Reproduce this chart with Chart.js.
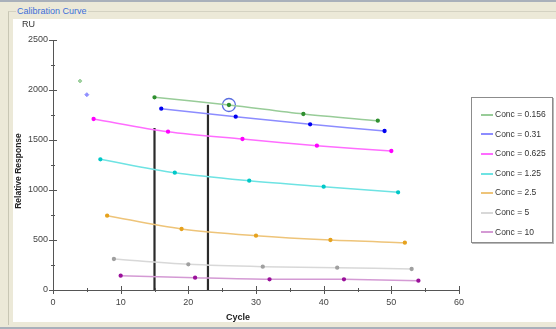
<!DOCTYPE html>
<html>
<head>
<meta charset="utf-8">
<script src="https://cdn.jsdelivr.net/npm/chart.js@4"></script>
<style>
  body { margin: 0; width: 556px; height: 329px; overflow: hidden; background: #ece9d8; position: relative; font-family: "Liberation Sans", Arial, sans-serif; }
  #topline { position: absolute; left: 0; top: 0; width: 556px; height: 2px; background: #a9b0ba; }
  #group { position: absolute; left: 8px; top: 11px; width: 560px; height: 313px; border-left: 1px solid #c8c6b4; border-top: 1px solid #d4d2c2; }
  #panel { position: absolute; left: 13px; top: 19px; width: 543px; height: 303px; background: #fff; }
  #bottomline { position: absolute; left: 0; top: 327px; width: 556px; height: 2px; background: #a9b0ba; }
  #groupTitle { position: absolute; left: 16px; top: 6px; padding: 0 1px; background: #ece9d8; color: #3d6fd8; font-size: 9px; line-height: 11px; }
  #chart { position: absolute; left: 0; top: 0; }
  .axis-text { position: absolute; color: #222; font-size: 9px; white-space: nowrap; }
  #ru { left: 22px; top: 19px; color: #333; }
  #yTitle { left: 17.5px; top: 171px; font-weight: bold; font-size: 8.5px; transform: translate(-50%, -50%) rotate(-90deg); }
  #xTitle { left: 238px; top: 317px; font-weight: bold; transform: translate(-50%, -50%); }
  #legend { position: absolute; left: 471px; top: 97px; width: 80px; height: 144px; background: #fff; border: 1px solid #8c8c8c; box-shadow: 1px 1px 0 #b8b8b8; }
  .leg-row { position: absolute; left: 9px; height: 12px; font-size: 8.5px; color: #333; line-height: 12px; white-space: nowrap; }
  .leg-row span { display: inline-block; width: 12px; height: 2px; vertical-align: middle; margin-right: 2px; }
</style>
</head>
<body>
<div id="topline"></div>
<div id="group"></div>
<div id="panel"></div>
<div id="bottomline"></div>
<div id="groupTitle">Calibration Curve</div>
<canvas id="chart" width="556" height="329"></canvas>
<div id="ru" class="axis-text">RU</div>
<div id="yTitle" class="axis-text">Relative Response</div>
<div id="xTitle" class="axis-text">Cycle</div>
<div id="legend"></div>

<script>
const seriesLabels = ["Conc = 0.156", "Conc = 0.31", "Conc = 0.625", "Conc = 1.25", "Conc = 2.5", "Conc = 5", "Conc = 10"];
const seriesCycles = [
    [15, 26, 37, 48],
    [16, 27, 38, 49],
    [6, 17, 28, 39, 50],
    [7, 18, 29, 40, 51],
    [8, 19, 30, 41, 52],
    [9, 20, 31, 42, 53],
    [10, 21, 32, 43, 54]
];
const seriesValues = [
    [1927, 1850, 1760, 1693],
    [1813, 1733, 1657, 1590],
    [1710, 1583, 1510, 1443, 1390],
    [1307, 1173, 1093, 1033, 977],
    [743, 610, 543, 500, 473],
    [310, 257, 233, 223, 210],
    [143, 123, 107, 107, 93]
];
const lineColors = ["#98cc98", "#8c8cff", "#ff6cff", "#6ee3e3", "#eec479", "#d8d8d8", "#d49ad4"];
const pointColors = ["#2f8f2f", "#0000f0", "#ff00ff", "#00c8c8", "#e6a21e", "#a0a0a0", "#9a109a"];

// excluded points (drawn faint, no line)
const excludedCycles = [4, 5];
const excludedValues = [2090, 1953];
const excludedColors = ["#9fd09f", "#8f8fff"];

// selected point ring
const cursorCycle = 26;
const cursorValue = 1850;

// black report-point markers
const markerCycles = [15, 22.9];
const markerTops = [1620, 1852];

const xMajorTicks = [0, 10, 20, 30, 40, 50, 60];
const xMinorTicks = [5, 15, 25, 35, 45, 55];
const yMajorTicks = [0, 500, 1000, 1500, 2000, 2500];
const yMinorTicks = [250, 750, 1250, 1750, 2250];

// legend
const legendEl = document.getElementById("legend");
seriesLabels.forEach((label, i) => {
    const row = document.createElement("div");
    row.className = "leg-row";
    row.style.top = (10 + i * 19.6) + "px";
    row.innerHTML = `<span style="background:${lineColors[i]}"></span>${label}`;
    legendEl.appendChild(row);
});

const datasets = [];
seriesLabels.forEach((label, i) => {
    datasets.push({
        label,
        data: seriesCycles[i].map((c, j) => ({ x: c, y: seriesValues[i][j] })),
        borderColor: lineColors[i],
        backgroundColor: pointColors[i],
        pointBackgroundColor: pointColors[i],
        pointBorderColor: pointColors[i],
        pointRadius: 1.4,
        borderWidth: 1.5,
        tension: 0.3,
        showLine: true
    });
});
excludedCycles.forEach((c, i) => {
    datasets.push({
        label: "excluded " + i,
        data: [{ x: c, y: excludedValues[i] }],
        pointStyle: "rectRot",
        pointRadius: 2,
        pointBorderColor: excludedColors[i],
        pointBackgroundColor: excludedColors[i],
        borderWidth: 1,
        showLine: false
    });
});
datasets.push({
    label: "cursor",
    data: [{ x: cursorCycle, y: cursorValue }],
    pointRadius: 6.5,
    pointBorderColor: "#5a6ee0",
    pointBackgroundColor: "transparent",
    pointBorderWidth: 1.3,
    showLine: false
});
markerCycles.forEach((c, i) => {
    datasets.push({
        label: "marker " + i,
        data: [{ x: c, y: 0 }, { x: c, y: markerTops[i] }],
        borderColor: "#2a2a2a",
        borderWidth: 2.2,
        pointRadius: 0,
        showLine: true
    });
});

// tick marks crossing the axes, major and minor
const axisTicks = {
    id: "axisTicks",
    afterDraw(chart) {
        const { ctx, chartArea, scales: { x, y } } = chart;
        ctx.save();
        ctx.strokeStyle = "#555";
        ctx.lineWidth = 1;
        ctx.beginPath();
        yMajorTicks.forEach(v => {
            const py = Math.round(y.getPixelForValue(v)) + 0.5;
            ctx.moveTo(chartArea.left - 4, py); ctx.lineTo(chartArea.left + 4, py);
        });
        yMinorTicks.forEach(v => {
            const py = Math.round(y.getPixelForValue(v)) + 0.5;
            ctx.moveTo(chartArea.left - 2, py); ctx.lineTo(chartArea.left + 2, py);
        });
        xMajorTicks.forEach(v => {
            const px = Math.round(x.getPixelForValue(v)) + 0.5;
            ctx.moveTo(px, chartArea.bottom - 4); ctx.lineTo(px, chartArea.bottom + 4);
        });
        xMinorTicks.forEach(v => {
            const px = Math.round(x.getPixelForValue(v)) + 0.5;
            ctx.moveTo(px, chartArea.bottom - 2); ctx.lineTo(px, chartArea.bottom + 2);
        });
        ctx.stroke();
        ctx.restore();
    }
};

new Chart(document.getElementById("chart"), {
    type: "scatter",
    data: { datasets },
    plugins: [axisTicks],
    options: {
        responsive: false,
        animation: false,
        events: [],
        layout: { padding: { top: 40, right: 97, left: 0, bottom: 0 } },
        plugins: { legend: { display: false }, tooltip: { enabled: false } },
        scales: {
            x: {
                type: "linear",
                min: 0, max: 60,
                afterFit: s => { s.height = 39; },
                grid: { display: false, drawTicks: false },
                border: { display: true, color: "#555", width: 1 },
                ticks: {
                    stepSize: 10, padding: 7, color: "#444",
                    font: { family: "Liberation Sans, Arial, sans-serif", size: 9 },
                    maxRotation: 0,
                    callback: v => String(v)
                }
            },
            y: {
                type: "linear",
                min: 0, max: 2500,
                afterFit: s => { s.width = 53; },
                grid: { display: false, drawTicks: false },
                border: { display: true, color: "#555", width: 1 },
                ticks: {
                    stepSize: 500, padding: 5, color: "#444",
                    font: { family: "Liberation Sans, Arial, sans-serif", size: 9 },
                    callback: v => String(v)
                }
            }
        }
    }
});
</script>
</body>
</html>
